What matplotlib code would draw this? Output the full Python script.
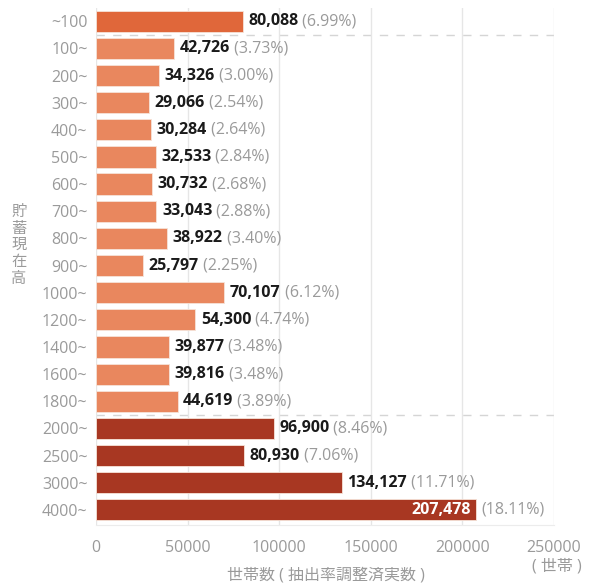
import matplotlib.pyplot as plt

plt.rcParams['font.family'] = ['Open Sans', 'Noto Sans CJK JP', 'DejaVu Sans']

# savings brackets (万円) and household counts
brackets = ['~100', '100~', '200~', '300~', '400~', '500~', '600~', '700~', '800~',
            '900~', '1000~', '1200~', '1400~', '1600~', '1800~', '2000~', '2500~',
            '3000~', '4000~']
households = [80088, 42726, 34326, 29066, 30284, 32533, 30732, 33043, 38922,
              25797, 70107, 54300, 39877, 39816, 44619, 96900, 80930, 134127, 207478]
shares = [6.99, 3.73, 3.00, 2.54, 2.64, 2.84, 2.68, 2.88, 3.40,
          2.25, 6.12, 4.74, 3.48, 3.48, 3.89, 8.46, 7.06, 11.71, 18.11]

c_low = '#E0673A'
c_mid = '#E9875E'
c_high = '#A83722'
colors = [c_low] + [c_mid] * 14 + [c_high] * 4

grey = '#9a9a9a'
fs = 11.5

fig = plt.figure(figsize=(5.92, 5.85), dpi=100)
ax = fig.add_axes([0.162, 0.103, 0.774, 0.883])

ypos = list(range(len(brackets)))
ax.barh(ypos, households, height=0.78, color=colors, edgecolor='#f6e3d8', linewidth=0.6, zorder=2)

for y, v, s in zip(ypos, households, shares):
    if v > 200000:
        ax.text(v - 3000, y, f'{v:,}', ha='right', va='center', color='white',
                fontsize=fs, fontweight='bold', zorder=3)
        ax.text(v + 3000, y, f'({s:.2f}%)', ha='left', va='center', color=grey,
                fontsize=fs, zorder=3)
    else:
        t = ax.text(v + 3000, y, f'{v:,}', ha='left', va='center', color='#1a1a1a',
                    fontsize=fs, fontweight='bold', zorder=3)
        ax.annotate(f' ({s:.2f}%)', xycoords=t, xy=(1, 0.5), ha='left', va='center',
                    color=grey, fontsize=fs, zorder=3)

# separators between bracket groups
for yb in (0.5, 14.5):
    ax.axhline(yb, color='#d5d5d5', lw=1, ls=(0, (6, 6)), zorder=1)

ax.set_xlim(0, 250000)
ax.set_ylim(18.55, -0.48)
ax.set_xticks([0, 50000, 100000, 150000, 200000, 250000])
ax.set_yticks(ypos)
ax.set_yticklabels(brackets)
ax.tick_params(axis='both', length=0, colors=grey, labelsize=fs)
ax.tick_params(axis='y', pad=6)
ax.tick_params(axis='x', pad=11)
ax.grid(axis='x', color='#e6e6e6', lw=1, zorder=0)
for side in ('top', 'right', 'left'):
    ax.spines[side].set_visible(False)
ax.spines['bottom'].set_color('#ececec')

fig.text(0.032, 0.58, '貯\n蓄\n現\n在\n高', ha='center', va='center', color=grey,
         fontsize=11, linespacing=1.15)
fig.text(0.55, 0.003, '世帯数 ( 抽出率調整済実数 )', ha='center', va='bottom',
         color=grey, fontsize=11.5)
fig.text(0.94, 0.018, '( 世帯 )', ha='center', va='bottom', color=grey, fontsize=11.5)

fig.savefig('out.png', dpi=100)
